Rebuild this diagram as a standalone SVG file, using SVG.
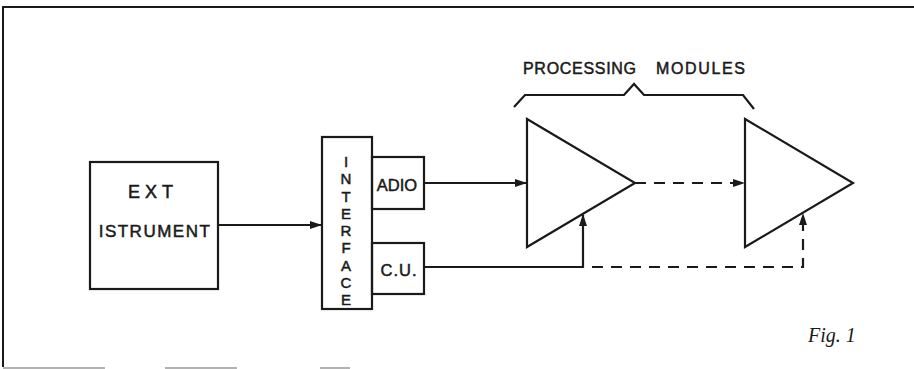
<svg xmlns="http://www.w3.org/2000/svg" width="914" height="369" viewBox="0 0 914 369">
<style>
.ln{fill:none;stroke:#1a1a1a;stroke-width:2.2}
.ds{fill:none;stroke:#1a1a1a;stroke-width:2.2;stroke-dasharray:11,8}
.t{font-family:"Liberation Sans","DejaVu Sans",sans-serif;fill:#1a1a1a;stroke:#1a1a1a;stroke-width:0.5;text-anchor:middle}
.tl{font-family:"Liberation Sans","DejaVu Sans",sans-serif;fill:#1a1a1a;stroke:#1a1a1a;stroke-width:0.5}
</style>
<defs>
<marker id="ah" markerWidth="12" markerHeight="8" refX="11" refY="4" orient="auto" markerUnits="userSpaceOnUse">
<path d="M0,0 L12,4 L0,8 Z" fill="#1a1a1a"/>
</marker>
</defs>
<rect width="914" height="369" fill="#fff"/>
<g id="frame">
<path d="M3,367 V7 H914" fill="none" stroke="#1a1a1a" stroke-width="2"/>
<path d="M3,368 H105 M165,368 H237 M320,368 H350" fill="none" stroke="#999" stroke-width="1.5"/>
</g>
<g id="ext">
<rect x="90" y="162" width="128" height="127" class="ln"/>
<text class="t" x="153" y="198" font-size="18" letter-spacing="5">EXT</text>
<text class="t" x="155" y="237" font-size="17" letter-spacing="1.5">ISTRUMENT</text>
</g>
<g id="interface">
<rect x="322" y="137" width="50" height="172" class="ln"/>
<g class="t" font-size="15">
<text x="346" y="167">I</text>
<text x="346" y="184">N</text>
<text x="346" y="201.5">T</text>
<text x="346" y="219">E</text>
<text x="346" y="236">R</text>
<text x="346" y="253">F</text>
<text x="346" y="270.5">A</text>
<text x="346" y="288">C</text>
<text x="346" y="305">E</text>
</g>
</g>
<g id="adio">
<rect x="372" y="157" width="52" height="52" class="ln"/>
<text class="t" x="397" y="191" font-size="16.5">ADIO</text>
</g>
<g id="cu">
<rect x="372" y="243" width="52" height="51" class="ln"/>
<text class="t" x="399" y="276" font-size="16.5" letter-spacing="1">C.U.</text>
</g>
<g id="module1">
<path d="M527,119 L635,183 L527,247 Z" class="ln"/>
</g>
<g id="module2">
<path d="M745,119 L853,183 L745,247 Z" class="ln"/>
</g>
<g id="brace">
<path d="M514,107 L525,95 H624 L634,84 L644,95 H743 L754,109" class="ln"/>
<text class="tl" x="523" y="74" font-size="16" textLength="113" lengthAdjust="spacing">PROCESSING</text>
<text class="tl" x="656" y="74" font-size="16" textLength="89" lengthAdjust="spacing">MODULES</text>
</g>
<g id="connectors">
<path d="M218,225 H321" class="ln" marker-end="url(#ah)"/>
<path d="M424,183 H526" class="ln" marker-end="url(#ah)"/>
<path d="M424,267 H583 V215" class="ln" marker-end="url(#ah)"/>
<path d="M635,183 H744" class="ds" marker-end="url(#ah)"/>
<path d="M592,267 H803 V214" class="ds" marker-end="url(#ah)"/>
</g>
<text x="808" y="342" font-family="Liberation Serif,serif" font-style="italic" font-size="20" fill="#1a1a1a">Fig. 1</text>
</svg>
